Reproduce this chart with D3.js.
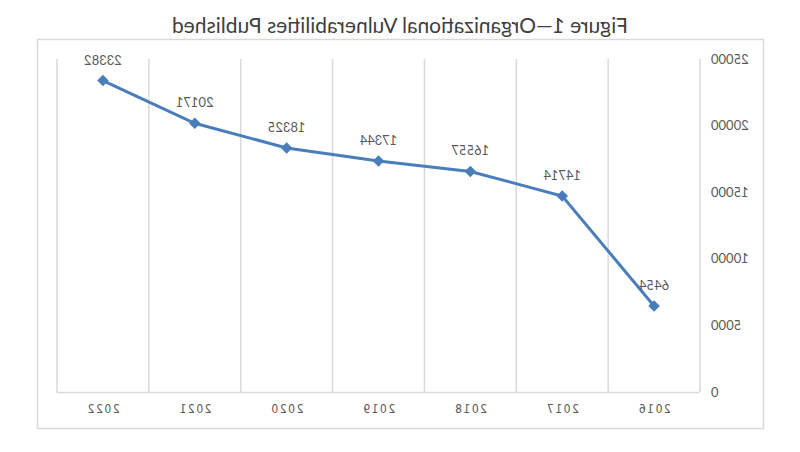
<!DOCTYPE html>
<html>
<head>
<meta charset="utf-8">
<script src="https://d3js.org/d3.v7.min.js"></script>
<style>
  body { margin: 0; background: #fff; }
  text { font-family: Lato, "Open Sans", sans-serif; fill: #595959; }
</style>
</head>
<body>
<div id="chart"></div>
<script>
// chart data
var years = ["2016", "2017", "2018", "2019", "2020", "2021", "2022"];
var published = [6454, 14714, 16557, 17344, 18325, 20171, 23382];
var yTicks = [0, 5000, 10000, 15000, 20000, 25000];
var title = "Figure 1\u2014Organizational Vulnerabilities Published";

const W = 800, H = 452;
const plot = { left: 100, right: 743, top: 59, bottom: 392 };

var svg = d3.select("#chart").append("svg")
  .attr("width", W)
  .attr("height", H);

// the reference picture is mirrored left to right
var g = svg.append("g")
  .attr("transform", "translate(" + W + ",0) scale(-1,1)");

// outer frame
g.append("rect")
  .attr("x", 36.5).attr("y", 39.5)
  .attr("width", 726).attr("height", 389)
  .attr("fill", "none")
  .attr("stroke", "#d9d9d9")
  .attr("stroke-width", 1.5);

g.append("text")
  .attr("x", 400).attr("y", 33)
  .attr("text-anchor", "middle")
  .style("font-size", "21px")
  .style("fill", "#404040")
  .text(title);

var x = d3.scaleBand().domain(years).range([plot.left, plot.right]);
var y = d3.scaleLinear().domain([0, 25000]).range([plot.bottom, plot.top]);

// vertical grid at band edges
var edges = years.map(d => x(d)).concat([plot.right]);
g.append("g").selectAll("line")
  .data(edges)
  .enter().append("line")
    .attr("x1", d => d).attr("x2", d => d)
    .attr("y1", plot.top).attr("y2", plot.bottom)
    .attr("stroke", "#d9d9d9")
    .attr("stroke-width", 1.5);

// x axis
var xAxis = g.append("g")
  .attr("transform", "translate(0," + plot.bottom + ")")
  .call(d3.axisBottom(x).tickSize(0).tickPadding(12));
xAxis.select(".domain").attr("stroke", "#d9d9d9").attr("stroke-width", 1.5);
xAxis.selectAll("text")
  .style("font-size", "12px")
  .style("letter-spacing", "1.5px")
  .style("font-family", "'DejaVu Sans Condensed', sans-serif");

// y axis labels
var yAxis = g.append("g")
  .attr("transform", "translate(" + plot.left + ",0)")
  .call(d3.axisLeft(y).tickValues(yTicks).tickSize(0).tickPadding(11).tickFormat(d3.format("d")));
yAxis.select(".domain").remove();
yAxis.selectAll("text").style("font-size", "13px");

// series line
var cx = d => x(d) + x.bandwidth() / 2;
var line = d3.line()
  .x((d, i) => cx(years[i]))
  .y(d => y(d));

g.append("path")
  .datum(published)
  .attr("d", line)
  .attr("fill", "none")
  .attr("stroke", "#4a7ebb")
  .attr("stroke-width", 3);

g.append("g").selectAll("path")
  .data(published)
  .enter().append("path")
    .attr("d", d3.symbol().type(d3.symbolDiamond2).size(85))
    .attr("transform", (d, i) => "translate(" + cx(years[i]) + "," + y(d) + ")")
    .attr("fill", "#4a7ebb");

// data labels
g.append("g").selectAll("text")
  .data(published)
  .enter().append("text")
    .attr("x", (d, i) => cx(years[i]))
    .attr("y", d => y(d) - 16)
    .attr("text-anchor", "middle")
    .style("font-size", "13px")
    .text(d => d);
</script>
</body>
</html>
